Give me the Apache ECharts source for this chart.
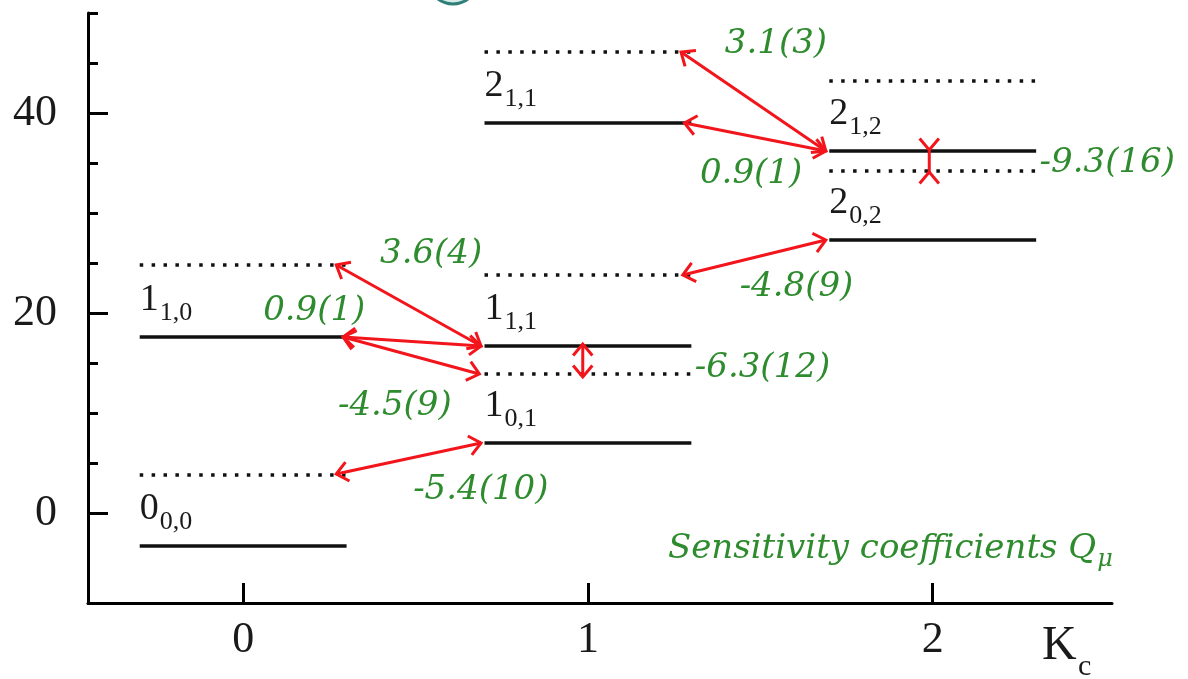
<!DOCTYPE html>
<html><head><meta charset="utf-8">
<script src="https://cdn.jsdelivr.net/npm/echarts@6/dist/echarts.min.js"></script>
<style>html,body{margin:0;padding:0;background:#fff}#c{width:1188px;height:679px}</style>
</head><body><div id="c"></div>
<script>
// ---- data ----
const xTickValues = [0, 1, 2];
const yTickLabels = [0, 20, 40];
const yMinorTicks = [5, 10, 15, 25, 30, 35, 45, 50];

// rotational states (solid levels)
const stateK = [0, 0, 1, 1, 1, 2, 2];
const stateMain = ['0', '1', '1', '1', '2', '2', '2'];
const stateSub = ['0,0', '1,0', '0,1', '1,1', '1,1', '0,2', '1,2'];
const stateE = [-3.3, 17.6, 7.0, 16.7, 39.0, 27.3, 36.2];
// shifted partner levels (dotted)
const shiftedK = [0, 0, 1, 1, 1, 2, 2];
const shiftedE = [3.8, 24.8, 13.9, 23.8, 46.1, 34.2, 43.2];

// transitions (arrows)
const arrowFrom = [[0.27, 24.8], [0.29, 17.6], [0.29, 17.6], [0.27, 3.9], [0.985, 16.9], [1.275, 23.8], [1.69, 36.2], [1.69, 36.2], [1.99, 36.3]];
const arrowTo = [[0.69, 16.7], [0.69, 16.7], [0.685, 13.9], [0.69, 7.0], [0.985, 13.6], [1.69, 27.3], [1.27, 46.1], [1.28, 39.0], [1.99, 34.1]];
const arrowInverted = [0, 0, 0, 0, 0, 0, 0, 0, 1];

// sensitivity coefficients
const coefText = ['3.6(4)', '0.9(1)', '-4.5(9)', '-5.4(10)', '-6.3(12)', '-4.8(9)', '3.1(3)', '0.9(1)', '-9.3(16)'];
const coefPos = [[0.397, 25.9], [0.058, 20.2], [0.275, 10.7], [0.493, 2.3], [1.31, 14.5], [1.44, 22.6], [1.397, 46.9], [1.325, 33.9], [2.31, 35.0]];
const noteText = 'Sensitivity coefficients Q';
const noteSub = 'μ';
const notePos = [1.232, -3.6];

// ---- styles ----
const HALF = 0.3;
const RED = '#f2151b';
const GREEN = '#2e8b2e';
const INK = '#111';
const SERIF = 'Liberation Serif';
const ITALIC = 'DejaVu Serif';

const measureCtx = document.createElement('canvas').getContext('2d');
function textWidth(t, size, italic, family) {
  measureCtx.font = (italic ? 'italic ' : '') + size + 'px "' + family + '"';
  return measureCtx.measureText(t).width;
}
function txt(text, size, color, italic, family) {
  return { text, fontSize: size, fontFamily: family, fontStyle: italic ? 'italic' : 'normal', fill: color, align: 'left', verticalAlign: 'middle' };
}

function levelItem(dotted) {
  return function (params, api) {
    const k = api.value(0), e = api.value(1), i = api.value(2);
    const p1 = api.coord([k - HALF, e]);
    const p2 = api.coord([k + HALF, e]);
    const children = [{
      type: 'line',
      shape: { x1: p1[0], y1: p1[1], x2: p2[0], y2: p2[1] },
      style: dotted
        ? { stroke: INK, lineWidth: 3.5, lineDash: [3.5, 8.4], lineCap: 'butt' }
        : { stroke: INK, lineWidth: 3.5 }
    }];
    if (!dotted) {
      const w = textWidth(stateMain[i], 38, false, SERIF);
      children.push({ type: 'text', x: p1[0], y: p1[1] - 37, style: txt(stateMain[i], 38, '#1a1a1a', false, SERIF) });
      children.push({ type: 'text', x: p1[0] + w + 1, y: p1[1] - 24, style: txt(stateSub[i], 26, '#1a1a1a', false, SERIF) });
    }
    return { type: 'group', children };
  };
}

function arrowItem(params, api) {
  const a = api.coord([api.value(0), api.value(1)]);
  const b = api.coord([api.value(2), api.value(3)]);
  const inv = api.value(4) === 1;
  const HEAD = 15, ANG = 40 * Math.PI / 180;
  const children = [{
    type: 'line', shape: { x1: a[0], y1: a[1], x2: b[0], y2: b[1] },
    style: { stroke: RED, lineWidth: 3 }
  }];
  [[a, b], [b, a]].forEach(([tip, other]) => {
    let dx = tip[0] - other[0], dy = tip[1] - other[1];
    const L = Math.hypot(dx, dy); dx /= L; dy /= L;
    const s = inv ? 1 : -1;
    const pts = [ANG, -ANG].map(t => {
      const c = Math.cos(t), sn = Math.sin(t);
      const rx = dx * c - dy * sn, ry = dx * sn + dy * c;
      return [tip[0] + s * HEAD * rx, tip[1] + s * HEAD * ry];
    });
    children.push({
      type: 'polyline', shape: { points: [pts[0], tip, pts[1]] },
      style: { stroke: RED, lineWidth: 3, fill: null, lineJoin: 'miter' }
    });
  });
  return { type: 'group', children };
}

function coefItem(params, api) {
  const p = api.coord([api.value(0), api.value(1)]);
  const i = api.value(2);
  return { type: 'text', x: p[0], y: p[1], style: txt(coefText[i], 34, GREEN, true, ITALIC) };
}

function noteItem(params, api) {
  const p = api.coord([api.value(0), api.value(1)]);
  const w = textWidth(noteText, 34, true, ITALIC);
  return {
    type: 'group', children: [
      { type: 'text', x: p[0], y: p[1], style: txt(noteText, 34, GREEN, true, ITALIC) },
      { type: 'text', x: p[0] + w + 1, y: p[1] + 11, style: txt(noteSub, 24, GREEN, true, ITALIC) }
    ]
  };
}

const chart = echarts.init(document.getElementById('c'), null, { renderer: 'canvas' });
const axisLineStyle = { color: '#000', width: 3 };
chart.setOption({
  backgroundColor: '#fff',
  animation: false,
  grid: { left: 88, right: 76, top: 13, bottom: 76, containLabel: false },
  xAxis: {
    type: 'value', min: -0.45, max: 2.52,
    axisLine: { show: true, onZero: false, lineStyle: axisLineStyle },
    axisTick: { show: true, inside: true, length: 20, customValues: xTickValues, lineStyle: axisLineStyle },
    axisLabel: { customValues: xTickValues, fontFamily: SERIF, fontSize: 44, color: '#1a1a1a', margin: 15 },
    splitLine: { show: false }
  },
  yAxis: [{
    type: 'value', min: -9, max: 50,
    axisLine: { show: true, onZero: false, lineStyle: axisLineStyle },
    axisTick: { show: true, inside: true, length: 20, customValues: yTickLabels, lineStyle: axisLineStyle },
    axisLabel: { customValues: yTickLabels, fontFamily: SERIF, fontSize: 44, color: '#1a1a1a', margin: 31 },
    splitLine: { show: false }
  }, {
    type: 'value', min: -9, max: 50, position: 'left', offset: 0,
    axisLine: { show: false, onZero: false },
    axisTick: { show: true, inside: true, length: 10, customValues: yMinorTicks, lineStyle: axisLineStyle },
    axisLabel: { show: false },
    splitLine: { show: false }
  }],
  graphic: [
    { type: 'circle', shape: { cx: 453, cy: -21, r: 25 }, style: { fill: '#d5ebe7', stroke: '#2f7f78', lineWidth: 3 }, silent: true },
    { type: 'text', left: 1042, top: 622, style: { text: 'K', fontSize: 48, fontFamily: SERIF, fill: '#1a1a1a' } },
    { type: 'text', left: 1078, top: 652, style: { text: 'c', fontSize: 30, fontFamily: SERIF, fill: '#1a1a1a' } }
  ],
  series: [
    { type: 'custom', name: 'shifted', renderItem: levelItem(true), encode: { x: 0, y: 1 },
      data: shiftedK.map((k, i) => [k, shiftedE[i], i]), clip: false, silent: true },
    { type: 'custom', name: 'levels', renderItem: levelItem(false), encode: { x: 0, y: 1 },
      data: stateK.map((k, i) => [k, stateE[i], i]), clip: false, silent: true },
    { type: 'custom', name: 'arrows', renderItem: arrowItem, encode: { x: [0, 2], y: [1, 3] },
      data: arrowFrom.map((f, i) => [f[0], f[1], arrowTo[i][0], arrowTo[i][1], arrowInverted[i]]), clip: false, silent: true, z: 3 },
    { type: 'custom', name: 'coefs', renderItem: coefItem, encode: { x: 0, y: 1 },
      data: coefPos.map((p, i) => [p[0], p[1], i]), clip: false, silent: true, z: 4 },
    { type: 'custom', name: 'note', renderItem: noteItem, encode: { x: 0, y: 1 },
      data: [[notePos[0], notePos[1]]], clip: false, silent: true, z: 4 }
  ]
});
</script>
</body></html>
